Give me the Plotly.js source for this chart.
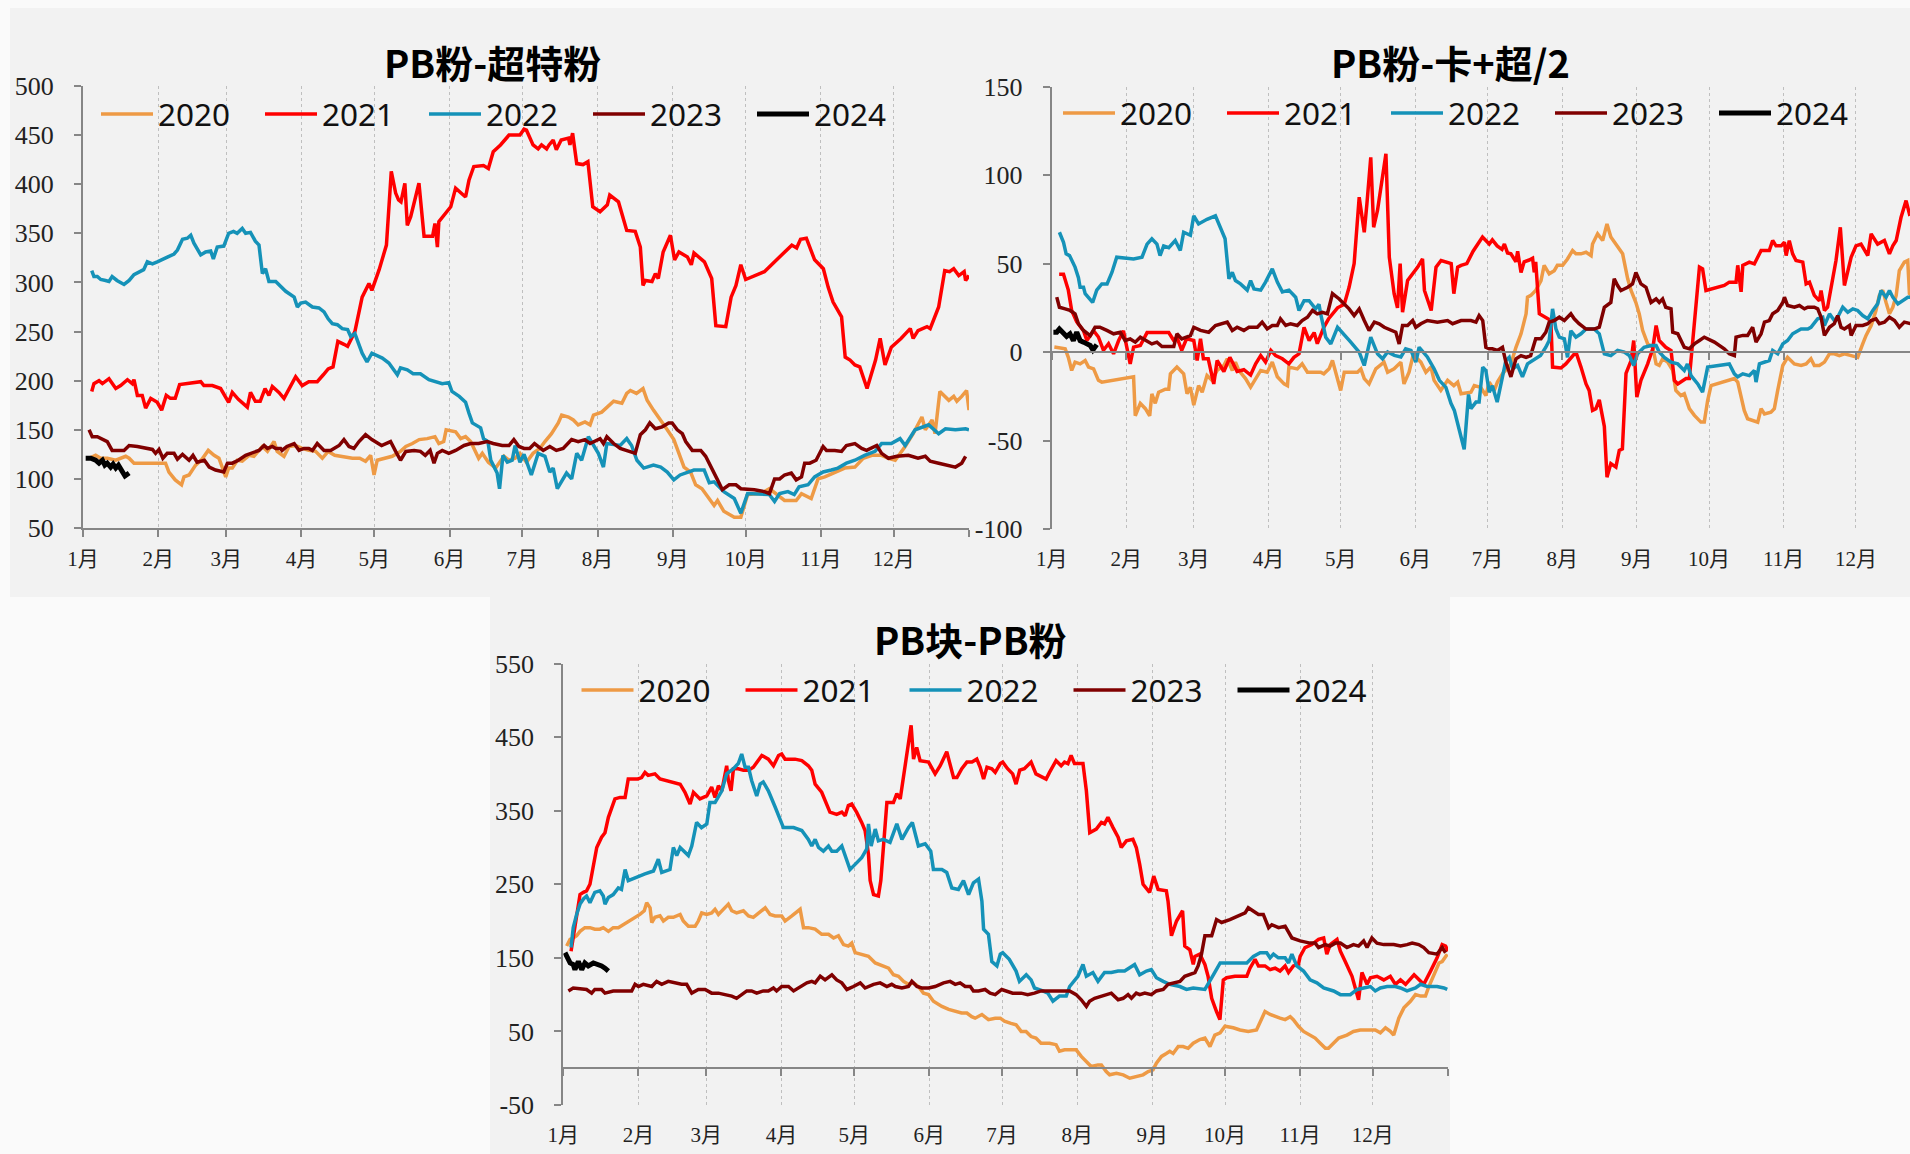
<!DOCTYPE html>
<html>
<head>
<meta charset="utf-8">
<script src="https://cdn.plot.ly/plotly-3.0.1.min.js"></script>
<style>
html,body{margin:0;padding:0;background:#FAFAFA;overflow:hidden}
#chart{width:1910px;height:1154px}
</style>
</head>
<body>
<div id="chart"></div>
<script>
// ---------------- data ----------------
const years = ['2020', '2021', '2022', '2023', '2024'];
const chartTitles = ['PB粉-超特粉', 'PB粉-卡+超/2', 'PB块-PB粉'];
// day-of-year positions of month starts and their labels
const monthTicks = [1, 32, 60, 91, 121, 152, 182, 213, 244, 274, 305, 335, 366];
const monthLabels = ['1月', '2月', '3月', '4月', '5月', '6月', '7月', '8月', '9月', '10月', '11月', '12月', ''];
const yTicksA = [50, 100, 150, 200, 250, 300, 350, 400, 450, 500];
const yTicksB = [-100, -50, 0, 50, 100, 150];
const yTicksC = [-50, 50, 150, 250, 350, 450, 550];
const yLabelsA = ['50', '100', '150', '200', '250', '300', '350', '400', '450', '500'];
const yLabelsB = ['-100', '-50', '0', '50', '100', '150'];
const yLabelsC = ['-50', '50', '150', '250', '350', '450', '550'];

// Each series: [day of year, value]
// PB粉-超特粉
const A2020 = [[3.5,121],[6.2,124],[8.3,121],[11,121],[14.5,119],[17,121],[18.6,123],[20,121],[22,116],[35,116],[36.4,107],[39,99],[41.6,94],[42.6,102],[44.7,104],[47.4,114],[50,120],[52.6,129],[55,124],[57,121],[58.4,111],[59.8,102],[61,111],[62.5,111],[64.6,119],[66.6,118],[69.4,124],[71.4,123],[74.9,133],[77,128],[79.7,138],[81,128],[83.8,123],[85.9,133],[88.6,134],[91.3,131],[94,129],[96.8,128],[99.6,121],[102,128],[104.7,124],[107.8,123],[112,121],[115,121],[117.4,118],[119.5,124],[120.9,104],[122.2,119],[125.7,121],[128.4,123],[131.8,128],[134,133],[136.7,136],[139.5,140],[142.8,141],[146,143],[147.6,136],[149.6,138],[150.6,150],[154.5,148],[156.6,141],[158.6,143],[160.7,138],[162.7,128],[164,121],[165.5,126],[168,117],[171,111],[174.4,123],[176.5,119],[179,121],[181,126],[183.7,117],[186.4,126],[189.2,131],[191.3,138],[194,146],[196.8,157],[198.2,165],[201,163],[203,160],[205,155],[207.8,158],[209.9,155],[211.3,165],[214.7,168],[217.5,175],[219.6,179],[223,177],[225,187],[226.5,190],[229,187],[231.7,192],[233.4,180],[236,170],[239,160],[241.7,150],[244.4,140],[246.5,126],[248.6,112],[251.3,107],[253.4,94],[256,90],[261,73],[262.4,78],[265,67],[269.3,61],[272,61],[274.8,84],[280.3,85],[283.8,90],[290,78],[294.8,78],[297,85],[301,80],[303.8,100],[306.6,102],[310,106],[314.8,111],[319,112],[322.4,121],[326,124],[330,124],[332.8,121],[335.6,119],[339.7,133],[343,146],[346.6,163],[348,150],[350.8,160],[352,146],[354,189],[357.7,180],[359.7,184],[361,179],[363,184],[365,190],[366,170]];
const A2021 = [[4.6,189],[5.5,197],[7.6,200],[9,197],[11.7,202],[14.5,192],[16.5,195],[19.3,201],[21.3,197],[22,201],[23.4,185],[25.4,185],[26.8,172],[28.9,182],[31.6,178],[33.4,170],[35.3,185],[37,182],[39,182],[40.8,196],[49.5,199],[50.8,195],[54.3,195],[57.7,192],[61,178],[62.5,188],[65,181],[68.7,173],[70,188],[72,179],[74,179],[76,192],[77.6,185],[79,194],[81.7,188],[83.8,182],[88.6,204],[91.3,195],[94,199],[97.5,199],[100,206],[102,212],[104,214],[106,240],[108.5,237],[110,235],[113,250],[116,285],[118.8,299],[120,292],[123,313],[126,338],[128,413],[129.8,391],[131,384],[132,382],[133.6,401],[134.6,358],[136,367],[138,389],[139.4,401],[141.5,347],[145,347],[146,360],[147,336],[147.6,362],[150,370],[152.5,377],[154.5,396],[156.6,391],[158.6,387],[160,404],[162,418],[166,419],[168,416],[170,433],[173,440],[176.5,450],[181,450],[182.7,456],[183.7,455],[186.4,440],[188.5,436],[189.9,440],[192,436],[193,440],[194.7,445],[196,435],[198,445],[201,447],[201.6,440],[202.7,452],[204.4,421],[207,420],[209,423],[211,377],[214,372],[217,379],[218,389],[221.6,382],[225,353],[228.5,352],[230.6,336],[231.7,297],[232.7,302],[235.4,301],[236.8,309],[238,304],[240,331],[243,348],[244.7,323],[246.5,331],[250,326],[251.6,318],[252.7,330],[257,321],[260,304],[261.7,256],[265.8,255],[268,285],[270,297],[272,318],[274,303],[281.7,311],[285.9,321],[290,330],[293,338],[295,335],[296.6,344],[299,345],[302.4,323],[306,314],[308,295],[310,280],[313.5,265],[315,224],[317,221],[319,216],[321,214],[324,192],[327.5,221],[329.4,243],[331.4,216],[334,234],[338,243],[341.8,253],[343,243],[345,251],[348.7,255],[350,253],[353.5,275],[356,312],[358,311],[359.7,314],[361.8,307],[364,311],[364.6,302],[366,307]];
const A2022 = [[4.6,312],[5.5,306],[6.9,306],[8.3,303],[10.3,302],[11.7,301],[13,306],[15,302],[17.9,298],[20,302],[22,308],[24.8,311],[26,313],[27.5,321],[29.6,319],[31.6,321],[35,325],[38.5,329],[39.9,333],[42,344],[44,345],[45.4,348],[46.7,340],[49.5,328],[51.5,331],[53.6,332],[54.7,324],[56.3,336],[59,337],[61,350],[63,352],[64.5,350],[66.6,355],[68,350],[70,351],[72,342],[73.5,338],[74.9,309],[76.2,314],[77.6,301],[80.4,301],[82.4,296],[84.5,291],[88,285],[89.3,275],[90.7,279],[92.7,280],[95.5,275],[98.2,274],[100.3,270],[102,263],[103.7,258],[105.8,257],[107.8,253],[110,252],[111.3,245],[113,248],[116,228],[118,219],[120,228],[124.3,223],[127,218],[130.5,206],[131.8,213],[134.6,211],[137,207],[140,207],[143.5,201],[146,199],[149,197],[151.7,198],[153,189],[156,184],[158.6,178],[160,167],[161.4,157],[164.8,152],[166,141],[167.8,138],[169,119],[170,114],[171.6,106],[172.6,90],[174,124],[175.8,117],[177.8,119],[179,134],[181,117],[182.7,125],[185.7,104],[188.5,126],[191.3,123],[193.3,107],[194.7,111],[196.4,90],[200.2,106],[202.3,100],[204.4,126],[206.4,119],[209.2,143],[213.3,126],[215.4,112],[216.8,136],[222.3,134],[225,141],[227,134],[229.2,119],[232,111],[236,114],[239,112],[241.7,107],[244.4,99],[247,104],[252.7,109],[256.9,109],[259,96],[261,97],[265,87],[269.3,80],[272,65],[274.8,85],[280.3,84],[283.8,84],[285.9,77],[288,85],[291.4,87],[294,84],[296,92],[299.7,94],[302.4,102],[305.9,107],[309.3,109],[312,111],[315.5,116],[319,119],[323,124],[327.3,128],[330,136],[334,136],[337.6,141],[339.7,134],[343.8,150],[349.4,155],[353.5,146],[356.3,151],[360.4,150],[364.6,151],[366,150]];
const A2023 = [[3.5,150],[4.8,143],[6.9,143],[9,140],[11,138],[13,129],[15.8,129],[17.9,129],[20,134],[23.4,133],[29.6,130],[30.9,126],[32.3,130],[33.9,121],[35.7,126],[38.5,126],[39.9,120],[42,125],[44.7,119],[46.3,124],[48,117],[51,119],[53,112],[55.6,109],[59,107],[60.5,116],[62.5,116],[65,119],[68,124],[70.7,126],[73.5,129],[75.6,134],[77,131],[79,133],[80.4,131],[82.4,131],[83,129],[85,133],[88,136],[90,129],[92,131],[94,131],[95.5,129],[97.5,136],[100.3,129],[103,129],[106.5,134],[108.5,140],[110.6,133],[112.6,131],[114.7,138],[117.4,145],[120,140],[124,134],[127.7,138],[129.8,128],[131.8,119],[134,128],[137.4,129],[140,128],[142,124],[144,129],[145.6,116],[147,126],[149,129],[151.7,126],[154.5,129],[158,134],[160.7,136],[164,136],[167.5,138],[170,136],[173.7,134],[176.5,134],[178.5,140],[180.6,133],[182.7,131],[185,131],[187,136],[190.6,129],[193.3,133],[196,129],[198.8,131],[202.3,140],[205,138],[207.8,140],[209.9,136],[214,141],[215.4,136],[216.8,143],[219.6,136],[222.3,131],[225.8,128],[228.5,126],[230.6,145],[232.7,150],[234.5,157],[236.8,151],[239.6,153],[242.3,157],[243.7,157],[245.8,150],[247.9,146],[249.3,138],[252,129],[255.5,129],[257.5,123],[259.6,112],[262.4,99],[264.4,89],[267.2,94],[270,94],[272,90],[277.6,89],[281.7,87],[283.8,85],[285.9,100],[288,100],[290,104],[292.8,106],[294.8,99],[297,102],[298.3,116],[300.4,116],[303,119],[305.9,133],[307.3,129],[310.7,129],[313.5,128],[315.5,134],[319,136],[321.8,131],[323.8,129],[328,134],[330,126],[332.8,121],[336.3,123],[341,124],[345,121],[348,123],[350,118],[353.5,116],[357,114],[360.4,112],[363,116],[364.6,123]];
const A2024 = [[2.1,121],[4.2,121],[6.2,119],[7.6,116],[9,119],[10,114],[11,116],[12.4,112],[13.4,115],[14.5,111],[15.6,114],[17.2,106],[18.3,103],[20,106]];

// PB粉-卡+超/2
const B2020 = [[2.1,2.8],[5.2,2.4],[6.6,1.8],[7.9,-3],[9.3,-10.4],[10.7,-5.7],[12.8,-6.7],[14.9,-4.8],[16.3,-8.5],[18.4,-9.5],[20.4,-16],[21.8,-17],[35,-14],[35.7,-36],[37.8,-29],[39.9,-32],[41.7,-36],[42.6,-23.6],[44,-29],[45.4,-22.7],[48.2,-21],[49.6,-21],[50.3,-12.3],[53,-8.5],[55.8,-12.3],[57.2,-23.6],[58.6,-20],[60,-30],[62,-19],[63.5,-22.7],[65.5,-13.3],[67.6,-16],[69.7,-10.4],[72.5,-7.6],[73.9,-3.8],[76,-10.4],[77.3,-5.7],[78.7,-10.4],[81.5,-15],[83.6,-19.8],[85.7,-15],[87.8,-10.4],[90.5,-11.4],[92.6,-5.7],[94.7,-14],[97.5,-18],[98.9,-19],[99.5,-8.5],[103,-9.5],[105,-6.7],[107.2,-11.4],[110.6,-11.4],[112.7,-11.4],[114,-12.3],[116.2,-9.5],[117.6,-4.8],[121,-21.7],[122.5,-11.4],[128,-11.4],[129.4,-9.5],[130.8,-15],[132.8,-18],[135.6,-9.5],[139,-5.7],[140.5,-11.4],[143.2,-9.5],[146,-5.7],[147.3,-18],[149.4,-11.4],[150.9,-3],[152.2,-3],[154.3,-5.7],[156.4,-11.4],[158.5,-8.5],[159.8,-16],[162.6,-21.7],[165.4,-16],[168,-19],[169.6,-17],[171,-23.6],[175.1,-22.7],[176.5,-19],[179.2,-20],[181.3,-24.6],[182.7,-17],[184.8,-21.7],[186.1,-17],[188.2,-12.3],[191.7,-6.7],[193.8,2.7],[195.9,10.3],[198,21.6],[198.6,31],[200,32],[202,34.8],[204.2,40.4],[205.5,49],[207.6,44.2],[209.7,46],[211,49],[213.2,49],[215.2,52.6],[217.3,57.4],[218.7,55.5],[220.8,55.5],[222.9,56.4],[225,54.5],[225.6,61],[227.7,66.8],[229.8,63],[231.6,72.4],[233.2,65],[236,60],[238.1,55.5],[240.2,41.4],[241.6,34.8],[243.6,28],[245,21.6],[246.4,12.3],[248.5,4.6],[250.6,2.7],[252,-6.7],[253.3,-7.6],[254.7,-3.8],[256.8,-5.7],[258.9,-10.4],[260.2,-21.7],[262.3,-24.6],[263.7,-23.6],[265.8,-32],[267.9,-35.8],[270.6,-39.6],[272,-39.6],[273.4,-27.4],[274.8,-19],[284.5,-15],[285.9,-17],[288.6,-33],[290,-37.7],[292.8,-38.7],[294.2,-39.6],[295.6,-32],[297,-35],[299.7,-34],[301.1,-32],[302.5,-21.7],[304.6,-7.6],[306.6,-3],[309.4,-6.7],[312.2,-7.6],[314.3,-6.7],[316.3,-3.8],[317.7,-7.6],[319.8,-7.6],[321.9,-5.7],[324,-1],[326,-1],[328.1,-2],[330.2,-1],[333,-2],[335.7,-3],[337.8,4.6],[339.2,9.4],[341.3,15],[343.3,23.5],[344.7,32],[346.1,35],[347.5,28],[348.9,21.6],[350.3,25.3],[351.7,32],[353,46],[355.1,50.8],[356.5,51.7],[357.2,33],[360,30]];
const B2021 = [[4.1,44],[5.9,44],[7.9,35],[9.3,23.5],[11.4,17],[14.2,12],[15.6,6.5],[18.4,12],[20.4,8.5],[22.5,1],[24.6,4.7],[26.7,-1],[28.8,6.5],[30.8,12],[33.6,-6.7],[35,2.8],[37.8,3.7],[40.6,11],[49.6,11],[51.7,6.5],[53,8.4],[55,0.9],[57,7.5],[60,6.5],[61.4,-4.8],[62.8,7.5],[64,-3.8],[66,-3.8],[68.3,-18],[69.7,-4.8],[72.5,-11],[75,-3],[78,-11],[80.8,-10],[83.6,-13],[85.7,-6.7],[87.8,-2],[89.8,-5.7],[92,0.9],[94,-2],[96.8,-3.8],[99.5,-6.7],[101.6,-3],[103.7,-1],[105.8,14],[107.9,6.5],[110,11],[111.3,4.7],[114,14],[116,18.8],[119.7,25],[122.5,27],[124.5,36.6],[126.6,50],[128.7,87.5],[130.8,67.7],[131.9,83.7],[133.5,110],[134.7,70.5],[136.3,80],[139.8,112],[141.2,53.6],[143.2,33],[144.6,25],[145.7,50],[146.7,22.5],[148.8,40.4],[150.9,44],[153,48],[155,52.6],[155.8,34.8],[158.6,23.5],[160.6,48],[162.7,51.7],[166.9,50],[168,33],[169.6,48],[171,49],[173.4,50],[176,57],[177.8,61],[179.9,65],[181.3,63],[182.7,61],[184,63.4],[186,60],[188,58],[189,61],[190.3,56],[191.7,55.5],[193.8,51],[194.5,57],[195.9,45],[197.2,51],[199.3,52],[200.7,53],[201.4,45],[202,51],[203.5,21.6],[206.2,19.7],[208.3,17.8],[209,-8.5],[212.5,-9],[214.5,-6.7],[216.6,-3],[218.7,0],[220.8,-8.5],[222.9,-18],[224.2,-21.7],[225.6,-33],[227,-32],[228.4,-27],[230.5,-42],[231.6,-70.7],[233.2,-63],[235.3,-65],[236.7,-55.6],[238,-54.7],[239.5,-12],[241.6,-4.8],[242.7,6.5],[244,-25.5],[245.7,-16],[248.5,-6.7],[250.6,1.8],[252,15],[253.3,6.5],[256,2.7],[258.2,0.9],[259.6,-16],[261,-18],[264.4,-15],[265.8,-15],[267.9,17.8],[270,48],[271.3,47],[272.7,34.8],[280.3,37.6],[282.4,39.5],[285.2,39.5],[285.9,49],[287.3,34],[288,49],[290.7,50.8],[292.8,49.8],[293.5,51.7],[295.6,57.4],[299,57.4],[300.4,63],[301.8,60],[303.9,60],[305.3,62],[306,54.5],[307.3,63],[308.7,55.5],[310.1,51.7],[312.9,50.8],[314.3,38.5],[315.7,39.5],[317.7,32],[319.8,29],[320.5,34.8],[321.9,23.5],[323.2,25.3],[325.3,40.4],[326.7,51.7],[328.5,70.5],[330.2,37.6],[333,53.6],[335,60],[337.1,61],[339.9,54.5],[341.3,66.8],[344,61],[346.8,63],[348.9,55.5],[350.3,60],[351.7,63],[353.7,76],[355.8,85.6],[357.2,78],[360,80]];
const B2022 = [[4.2,67.7],[5.9,62],[7,55.5],[8.4,54.5],[10.7,48],[12.1,42],[12.8,36.6],[14.2,36.6],[14.9,33],[17,30],[18,28],[19.7,35],[21.8,38.5],[24,38.5],[26,45],[28,53.6],[35,52.6],[38.5,53.6],[40.6,61],[42.6,64],[44.7,61],[46,54.5],[47.5,60],[49.6,59],[52.3,63],[54.4,57.4],[55.8,67.7],[58.6,66],[60,77],[62,72.4],[65.5,75],[69,77],[71,70.5],[73,64],[74.6,41.4],[76,45],[77.3,40.4],[79.4,38.5],[82.2,35],[83.6,40.4],[85,35.7],[87.8,35],[89.8,39.5],[92.6,47],[94.7,39.5],[96.8,34],[99.5,35],[102.3,31],[103.7,23.5],[105.8,29],[107.9,29],[110.6,24.4],[112,27],[112.7,21.6],[114.8,8.4],[116.9,4.6],[119.7,14],[122.5,10],[125.2,5.6],[128.7,0],[130.8,-7.6],[133.5,8.4],[136.3,-1],[138.4,-3.8],[140.5,0],[143.3,-1.9],[146,-2.8],[148,1.8],[150.2,0.9],[152.2,-5.7],[153.6,2.7],[157,-2.8],[159.8,-9.5],[162,-16],[164.7,-20],[166.8,-29],[168.2,-33],[171,-48],[172.3,-55],[174.1,-24],[175.1,-32],[177.2,-28.3],[178.5,-28.3],[180,-8.5],[181.3,-10.4],[182.7,-22.7],[184,-19],[186,-28.3],[188.2,-14],[189.6,-4.8],[191,-3],[192.4,-9.5],[194.5,-7.6],[196.5,-14],[198.6,-6.7],[200.7,-4.8],[202.8,-3],[204,-2],[206.2,2.7],[207.6,6.5],[209,24.4],[210.4,13],[211.8,8.4],[213.9,7.5],[215.2,-3],[216.6,12],[218.7,8.4],[220.8,10.3],[222.9,13],[226.3,13],[228.4,10.3],[230.5,-1],[233.2,-2],[236,0.9],[238.8,0],[240.9,-2],[242.7,-7.6],[244.3,-1],[247,2.7],[249.9,3.7],[252,3.7],[253.3,0],[255.4,-3],[258.2,-5.7],[261,-6.7],[263.7,-10.4],[265,-6.7],[266.5,-13.3],[269.3,-18],[271.3,-22.7],[273.4,-8.5],[277.5,-7.6],[282.4,-6.7],[284.5,-12.3],[285.9,-14],[288,-12.3],[290.7,-13.3],[292.8,-10.4],[293.5,-17],[294.9,-6.7],[297,-5.7],[299,-4.8],[300.4,0.9],[302.5,-1],[304.6,4.6],[306.6,6.5],[308.7,10.3],[312.2,13],[315,13],[316.3,14],[319.1,18.8],[321.2,19.7],[321.9,15],[324,21.6],[326,17.8],[327.4,19.7],[329.5,25.3],[331.6,22.5],[333.7,24.4],[335.7,23.5],[337.8,20.6],[339.9,18.8],[342,23.5],[344,27.2],[345.4,34.8],[347.5,31],[348.9,34.8],[350.3,31],[352.4,27.2],[354.4,29],[356.5,31],[357.9,31],[360,31]];
const B2023 = [[3.1,31],[4.2,25.3],[6.6,24.4],[8.6,23.5],[10.7,21.6],[12.1,16],[14.2,12.2],[17,9.3],[19,14],[21,14],[23.9,12.2],[26.7,10.3],[29.5,11.2],[31.5,6.5],[33.6,7.4],[35.7,5.6],[37.8,8.4],[40.6,6.5],[42.6,4.6],[44.7,5.6],[46.8,3.1],[49.6,3.1],[51.7,3.1],[53,10.3],[55,7.4],[58.6,9.3],[60,14],[62.8,12.2],[66.2,11.2],[69,15],[71.8,16],[73.9,16.9],[76,12.2],[78,14],[80.8,12.2],[82.9,14],[86.4,14],[88.4,16.9],[90.5,13.1],[92.6,15],[94.7,15],[96,18.8],[98.2,15],[100.2,16],[103,15],[105,17.8],[107.2,19.7],[109.3,23.5],[111.3,21.6],[113.4,22.5],[115.5,21.6],[117.6,33],[120.4,30],[122.5,27],[124.5,24.4],[126.6,20.6],[128.7,24.4],[130.8,17.8],[132.8,12.2],[135,16.9],[137,16],[139.1,14],[141.8,12.2],[143.9,11.2],[145.3,4.6],[146.7,15],[148.8,15],[150.9,17.8],[152.2,14],[154.3,16],[157,17.8],[161.2,16.9],[165.4,17.8],[167.5,16],[171,17.8],[175.1,17.8],[177.2,16.9],[178.5,20.6],[180,17.8],[181.3,2.7],[182.7,1.8],[184,1.8],[186.1,0.9],[188.2,2.7],[189.6,-5.7],[191.7,-14],[193.8,-3.8],[195.9,-2],[198,-3],[199.9,-2],[202,7.5],[204.2,7.5],[206.2,11.2],[207.6,16.9],[209.7,17.8],[211.8,19.7],[213.9,17.8],[216.6,21.6],[218,18.8],[220,16],[222.9,13],[226.3,13],[228.4,14],[230.5,25.3],[233.2,28],[234.6,41.4],[236,37.6],[237.4,34.8],[240.2,36.6],[242.2,38.5],[243.6,45],[245.7,38.5],[247.8,36.6],[249.9,28],[252,30],[253.3,28],[254.7,30],[256,25.3],[258.2,24.4],[258.9,11.2],[261,10.3],[263.7,2.7],[265.8,1.8],[267.9,4.6],[270,6.5],[272,8.4],[276.2,5.6],[280.3,1.8],[282.4,-1],[284.5,-2],[285.2,8.4],[288,9.4],[290,9.4],[292.1,14],[293.5,5.6],[295.6,10.3],[297,16.9],[299,17.8],[300.4,21.6],[302.5,23.5],[304.6,28],[305.3,31],[306.6,26.3],[309.4,25.3],[311.5,26.3],[313.6,24.4],[315,25.3],[317.7,25.3],[319.1,24.4],[320.5,19.7],[321.9,9.4],[324,14],[326,16],[327.4,20.6],[328.8,14],[330.2,13],[332.3,15],[333,9.4],[335,15],[337.8,15],[339.9,16],[341.3,17.8],[343.3,18.8],[344.7,16],[346.8,16.9],[348.9,19.7],[351,17.8],[353,14],[355.1,16.9],[357.9,16],[360,17]];
const B2024 = [[1.7,11.2],[3.1,11.2],[4.2,13],[5.9,10],[7.2,8.8],[8.6,10.3],[10,6.5],[11.4,11.2],[12.8,6.5],[14.2,5.6],[15.6,5],[17,3.7],[18.1,1.2],[19.7,4.2]];

// PB块-PB粉
const C2020 = [[2.4,166],[3.8,175],[5.1,177],[6.5,180],[7.9,186],[9.9,191],[12,191],[14,189],[16.1,189],[17.5,191],[19.6,186],[21.6,191],[23.7,191],[25.8,195],[29.2,202],[32.6,209],[34.4,214],[35.4,225],[36.8,218],[37.5,198],[38.8,205],[40.9,207],[42.3,200],[44.3,205],[46.4,205],[47.8,207],[49.2,209],[50.5,200],[52.6,193],[55.4,193],[56.7,200],[58.1,211],[60.2,209],[62.2,211],[63.6,216],[65,209],[67,216],[69.1,223],[70.5,214],[72.5,211],[75.3,214],[77.4,207],[79.4,205],[81.5,211],[84.3,218],[86.3,209],[88.4,207],[91.1,207],[92.5,200],[95.3,207],[98.7,216],[100.1,191],[102.1,191],[104.9,189],[107.6,182],[110.4,182],[112.5,177],[114.5,180],[116.6,168],[118.6,166],[120,170],[121.4,157],[124.1,155],[126.9,152],[129.7,143],[132.4,139],[135.2,136],[137.2,127],[139.3,125],[141.4,118],[143.4,114],[145.5,116],[147.5,111],[149.6,102],[151.7,100],[153.7,91],[157.2,84],[160,80],[162.6,77],[165.3,75],[167.5,75],[169.5,70],[170.9,68],[173.7,73],[176.4,66],[179.2,68],[181.3,68],[183,64],[185.7,61],[187.8,59],[189.9,50],[191.9,50],[194,43],[196,41],[198.1,34],[201.6,34],[204.3,32],[205.7,23],[207.8,25],[210.5,25],[212.6,25],[214.7,16],[216.8,9],[218.8,2.3],[221.6,4.5],[223,4.5],[225,-4.5],[226.4,-9],[229.2,-7],[232,-9],[234.7,-13.6],[237.4,-11],[240.2,-9],[242.3,-4.5],[244.3,-2.3],[245.7,6.8],[247.8,16],[249.8,20],[251.2,23],[252.6,20],[254.7,29.5],[256.7,29.5],[258.8,27],[260.9,34],[263.6,39],[265.7,41],[267.8,29.5],[269.8,45],[272,48],[274,57],[277.4,55],[280.2,52],[283.6,50],[287,52],[288.5,64],[290.5,77],[292.6,73],[294.7,70],[296.7,68],[298.8,66],[300.9,70],[302.2,66],[304.3,57],[306.4,50],[309.1,45],[311.2,41],[313.3,34],[315.4,27],[316.7,27],[318.8,34],[320.9,41],[324.3,45],[327,50],[329.8,52],[332.6,52],[336,52],[338.1,48],[340.2,55],[342.2,50],[343.6,45],[345.7,68],[347.8,82],[350.5,91],[352.6,100],[354.7,98],[356.7,98],[358.1,111],[360.2,127],[362.3,143],[363.6,145],[365.7,155]];
const C2021 = [[4.2,159],[5.1,177],[6.5,209],[7.9,236],[9.3,239],[10.6,241],[12,250],[13.4,273],[14.8,300],[16.8,314],[18.2,320],[19.6,341],[21,355],[22.3,366],[24.4,368],[26.5,368],[27.8,393],[29.9,393],[31.7,393],[33.3,395],[34.7,402],[36,398],[38.8,400],[40.9,393],[43.6,391],[46.4,389],[49.2,386],[51.2,375],[53.3,359],[54.7,375],[57.4,366],[60.2,370],[62.2,382],[63.6,368],[65,384],[66.4,377],[68.4,411],[69.1,391],[70.2,377],[71.2,407],[73.2,407],[75.3,405],[77.4,405],[79.4,409],[81.5,418],[82.9,425],[85.6,420],[87.7,411],[89.8,425],[91.1,427],[92.5,420],[96.6,420],[99.4,418],[102.1,411],[103.5,405],[104.9,386],[107.6,375],[109.7,359],[111,348],[113.8,345],[115.9,348],[117.3,343],[118.6,357],[120,359],[122,348],[124.1,334],[125.5,323],[126.9,291],[127.6,255],[129,236],[131,234],[132,255],[133,300],[134.5,361],[137.2,361],[138.6,373],[140,366],[141.3,395],[142.7,432],[144.5,466],[145.5,420],[146.8,436],[148.2,418],[151.7,416],[154.4,400],[156.5,411],[159.2,430],[162,395],[163.4,395],[165.4,407],[167.5,416],[169.6,416],[171.6,420],[173,409],[174.4,393],[175.8,409],[177.8,407],[179.2,402],[181.3,414],[182.3,416],[184.3,407],[186.4,400],[187.8,386],[189.3,405],[191.2,407],[194,416],[196,400],[200.2,393],[201.6,402],[204.3,418],[206.4,411],[207.8,416],[209.2,414],[210.5,425],[211.9,414],[215.4,414],[216.8,377],[218.2,320],[220.9,325],[223,334],[224.3,332],[225.7,341],[227.8,327],[229.9,314],[231.2,300],[233.3,309],[236,311],[237.4,300],[238.8,277],[240.2,250],[242.9,239],[244.6,261],[246.4,243],[249.8,241],[250.5,227],[251.9,180],[254,200],[256.5,214],[257.4,166],[259.5,161],[260.9,141],[261.6,152],[263.6,155],[265.7,141],[267,125],[268.5,95],[270.5,77],[271.9,66],[273.3,120],[274.7,123],[278.1,125],[283,125],[284.3,136],[286.4,148],[287.8,139],[290.5,139],[292.6,134],[294.7,136],[296.7,132],[298.8,139],[300.2,130],[302.2,139],[304.3,141],[305,152],[307,164],[309.8,168],[312.6,175],[314.7,177],[316,155],[317.4,168],[320.2,175],[321.6,159],[323.6,145],[326.4,125],[329.1,93],[330.5,130],[332.6,114],[334,123],[336.7,125],[339.5,120],[342.2,125],[344.3,114],[346.4,120],[348.5,114],[352,127],[354,120],[356,114],[358.8,132],[361.5,150],[363.6,168],[365,166],[366,159]];
const C2022 = [[4.2,164],[5.1,191],[6.5,209],[7.9,223],[9.3,230],[10.6,234],[12,225],[14,239],[16.1,241],[17.5,234],[18.2,223],[19.6,232],[21.6,236],[23.7,245],[25,243],[26.5,270],[27.8,255],[30.6,259],[34.7,264],[38.2,268],[40.2,284],[41.6,266],[45,270],[46.4,300],[47.8,289],[49.2,300],[52.6,289],[54,302],[56,334],[58,327],[60.2,332],[61.5,361],[63.6,361],[66.4,377],[68.4,400],[71.2,407],[73.2,414],[74.6,427],[76,409],[77.4,409],[78.7,391],[80.8,370],[82.2,386],[83.5,389],[85.6,377],[88.4,355],[89.8,343],[91.8,327],[96,327],[99.4,323],[102.1,311],[103.5,302],[104.9,311],[106.3,300],[108.3,295],[110.4,302],[111.8,295],[113.8,295],[115.9,302],[118,284],[119.3,270],[121.4,277],[124.1,286],[126.2,298],[126.9,332],[128,302],[129.7,325],[131,309],[133,311],[135.8,307],[137.2,320],[138.6,332],[140.7,311],[143.4,327],[145,334],[146.2,320],[147.5,302],[150.3,305],[152.6,295],[153.7,270],[157.2,270],[159.2,266],[161.3,245],[164,243],[166.1,255],[168.2,236],[170.2,252],[172.3,257],[173.7,227],[174.4,189],[176.4,182],[177.8,145],[179.9,139],[181.3,155],[182.3,157],[185,148],[187.8,132],[189.2,118],[192,127],[194,120],[195.4,109],[198.8,105],[200.9,102],[203,91],[205.7,98],[208.5,98],[209.9,111],[213.3,125],[215.4,141],[216.8,125],[219.5,130],[221.6,118],[224.3,130],[227.1,130],[229.9,132],[232.6,132],[235.4,139],[236.7,141],[238.8,127],[241.6,132],[243.6,134],[245.7,123],[248.5,118],[251.2,114],[255.4,111],[258.1,107],[260.9,109],[265.7,107],[269.2,127],[272,143],[277.4,143],[283,143],[285.7,152],[288.5,157],[291.2,157],[292.6,150],[294,155],[296,150],[298.8,150],[300.2,143],[301.6,155],[303.6,139],[306.4,132],[309.1,120],[311.9,116],[314.7,109],[318.8,105],[321.6,100],[325.7,100],[328.5,107],[331.2,109],[334,111],[336,105],[338.1,109],[340.9,111],[344.3,111],[346.4,109],[349.1,105],[352.6,109],[354.7,114],[357.4,111],[361.5,111],[364.3,109],[365.7,107]];
const C2023 = [[3.1,105],[5.1,109],[7.9,108],[10.6,107],[12.7,102],[14,107],[16.8,107],[18.2,102],[21.6,105],[25,105],[29.2,105],[30.6,114],[32,111],[34,114],[37.5,111],[39.5,118],[41.6,114],[44.3,118],[46.4,116],[49.8,114],[51.9,114],[54,102],[56.7,107],[59.5,107],[62.2,102],[65,102],[67.7,100],[70.5,98],[72.5,95],[74.6,100],[76.7,105],[78.7,105],[80.8,102],[83.5,105],[85.6,105],[87.7,109],[89,105],[91.1,111],[93.9,111],[96,105],[98.7,111],[101.5,116],[103.5,118],[104.9,116],[107,125],[109,120],[111.8,127],[113.8,120],[115.9,116],[118,107],[120.7,111],[123.5,116],[125.5,109],[129,114],[131.7,116],[134.5,111],[136.5,114],[138,111],[140.7,109],[143.4,111],[144.8,118],[146.9,111],[148.9,109],[151.7,109],[154.4,111],[157.9,116],[160.6,118],[162.7,114],[164.7,116],[166.8,111],[168.9,111],[170.2,105],[172.3,105],[175,107],[177.1,102],[179.2,100],[181.9,107],[183.7,105],[186.4,102],[189.9,102],[192.6,100],[195.4,102],[198.1,105],[203,105],[206.4,105],[209.9,105],[212.6,100],[214.7,93],[216.8,84],[218.1,91],[220.2,95],[223,98],[225,100],[227.1,102],[229.9,93],[232,95],[234,100],[235.4,95],[237.4,102],[238.8,100],[240.9,102],[243.6,100],[245.7,105],[248.5,107],[250.5,114],[252.6,116],[255.4,118],[257.4,125],[259.5,127],[261.6,130],[262.9,139],[264.3,155],[265.7,180],[268.5,180],[270.5,202],[272.6,198],[276,202],[279.5,207],[282.3,211],[283.6,218],[285.7,214],[287.8,209],[289.8,209],[292,191],[293.3,195],[296.1,191],[298.8,193],[300.2,184],[301.6,177],[305,173],[309.1,170],[311.2,170],[312.6,164],[315.3,168],[317.4,166],[319.5,170],[321.6,170],[324.3,164],[327,168],[329.1,166],[331.2,173],[332.6,164],[334.6,177],[336.7,170],[339.5,168],[343.6,168],[346.4,166],[349.1,168],[351.2,170],[353.9,168],[356,164],[358.1,157],[361.5,155],[363.6,164],[365,157]];
const C2024 = [[1.7,157],[2.8,150],[3.8,143],[5.1,141],[5.8,134],[7.2,145],[8.6,134],[9.9,143],[11.3,139],[13.4,143],[15.4,141],[16.8,139],[18.2,136],[19.6,132]];

// ---------------- styling / layout ----------------
const yearColors = ['#EE9A45', '#FF0000', '#1592B8', '#800000', '#000000'];
const W = 1910, H = 1154;
const fx = v => v / W;
const fy = v => 1 - v / H;
const serif = "'Liberation Serif', 'Times New Roman', 'Noto Sans CJK SC', serif";
const axisGray = '#868686';
const legendSymbolWidth = 52;   // legend.itemwidth
const legendStep = 164;         // px between legend entries

const panels = [
  { data: [A2020, A2021, A2022, A2023, A2024], title: chartTitles[0], yTicks: yTicksA, yLabels: yLabelsA,
    box: { l: 83, r: 969, t: 86, b: 528 }, xRange: [1, 366], yRange: [50, 500],
    titlePos: [492, 61], legendText: [158, 114], zeroAxis: false },
  { data: [B2020, B2021, B2022, B2023, B2024], title: chartTitles[1], yTicks: yTicksB, yLabels: yLabelsB,
    box: { l: 1051.7, r: 1910, t: 86.6, b: 529 }, xRange: [1, 1 + (1910 - 1051.7) / 2.408], yRange: [-100, 150],
    titlePos: [1450, 61], legendText: [1120, 113], zeroAxis: true },
  { data: [C2020, C2021, C2022, C2023, C2024], title: chartTitles[2], yTicks: yTicksC, yLabels: yLabelsC,
    box: { l: 563.3, r: 1448, t: 663.5, b: 1105 }, xRange: [1, 366], yRange: [-50, 550],
    titlePos: [970, 638], legendText: [638.5, 690], zeroAxis: true }
];

const traces = [];
const layout = {
  width: W, height: H,
  margin: { l: 0, r: 0, t: 0, b: 0, autoexpand: false },
  paper_bgcolor: '#FAFAFA',
  plot_bgcolor: 'rgba(0,0,0,0)',
  hovermode: false,
  showlegend: true,
  annotations: [],
  shapes: [
    { type: 'rect', xref: 'paper', yref: 'paper', x0: fx(10), x1: fx(1910), y0: fy(597), y1: fy(8),
      fillcolor: '#F2F2F2', line: { width: 0 }, layer: 'below' },
    { type: 'rect', xref: 'paper', yref: 'paper', x0: fx(490), x1: fx(1450), y0: fy(1154), y1: fy(582),
      fillcolor: '#F2F2F2', line: { width: 0 }, layer: 'below' }
  ]
};

let extra = 4;
panels.forEach((p, k) => {
  const n = k === 0 ? '' : String(k + 1);
  const xa = 'x' + n, ya = 'y' + n, lg = 'legend' + n;
  const yDom = [fy(p.box.b), fy(p.box.t)];
  p.data.forEach((s, i) => {
    traces.push({
      type: 'scatter', mode: 'lines', name: years[i],
      x: s.map(q => q[0]), y: s.map(q => q[1]),
      xaxis: xa, yaxis: ya, legend: lg,
      line: { color: yearColors[i], width: i === 4 ? 5 : 3.5 },
      hoverinfo: 'skip'
    });
  });
  layout['xaxis' + n] = {
    domain: [fx(p.box.l), fx(p.box.r)], range: p.xRange, anchor: ya,
    tickmode: 'array', tickvals: monthTicks, ticktext: monthLabels,
    showline: !p.zeroAxis, linecolor: axisGray, linewidth: 2,
    ticks: 'outside', ticklen: 7, tickwidth: 2,
    tickcolor: p.zeroAxis ? 'rgba(0,0,0,0)' : axisGray,
    showgrid: true, gridcolor: '#BFBFBF', gridwidth: 1, griddash: 'dot',
    zeroline: false, ticklabelstandoff: 4, automargin: false,
    tickfont: { family: serif, size: 21, color: '#222' }, fixedrange: true
  };
  layout['yaxis' + n] = {
    domain: yDom, range: p.yRange, anchor: xa,
    tickmode: 'array', tickvals: p.yTicks, ticktext: p.yLabels,
    showline: true, linecolor: axisGray, linewidth: 2,
    ticks: 'outside', ticklen: 7, tickwidth: 2, tickcolor: axisGray,
    showgrid: false, zeroline: false, ticklabelstandoff: 15, automargin: false,
    tickfont: { family: serif, size: 26, color: '#222' }, fixedrange: true
  };
  layout[lg] = {
    orientation: 'h', xref: 'paper', yref: 'paper',
    x: fx(p.legendText[0] - legendSymbolWidth - 10), xanchor: 'left',
    y: fy(p.legendText[1]), yanchor: 'middle',
    bgcolor: 'rgba(0,0,0,0)', borderwidth: 0,
    entrywidth: legendStep - legendSymbolWidth - 15, entrywidthmode: 'pixels',
    itemwidth: legendSymbolWidth,
    font: { family: "'Noto Sans', 'Open Sans', sans-serif", size: 31.5, color: '#111' },
    traceorder: 'normal'
  };
  layout.annotations.push({
    text: p.title, xref: 'paper', yref: 'paper',
    x: fx(p.titlePos[0]), y: fy(p.titlePos[1]), xanchor: 'center', yanchor: 'middle',
    showarrow: false,
    font: { family: "'Noto Sans CJK SC', 'Noto Sans', sans-serif", size: 38, color: '#000', weight: 700 }
  });
  if (p.zeroAxis) {
    const m = String(extra++);
    const frac = (0 - p.yRange[0]) / (p.yRange[1] - p.yRange[0]);
    layout['xaxis' + m] = {
      overlaying: xa, anchor: 'free', position: yDom[0] + frac * (yDom[1] - yDom[0]),
      range: p.xRange, tickmode: 'array', tickvals: monthTicks,
      showticklabels: false, showline: true, linecolor: axisGray, linewidth: 2,
      ticks: 'outside', ticklen: 7, tickwidth: 2, tickcolor: axisGray,
      showgrid: false, zeroline: false, fixedrange: true, automargin: false
    };
    traces.push({ type: 'scatter', mode: 'lines', x: [null], y: [null], xaxis: 'x' + m, yaxis: ya,
      showlegend: false, hoverinfo: 'skip' });
  }
});

Plotly.newPlot('chart', traces, layout, { displayModeBar: false, staticPlot: true });
</script>
</body>
</html>
